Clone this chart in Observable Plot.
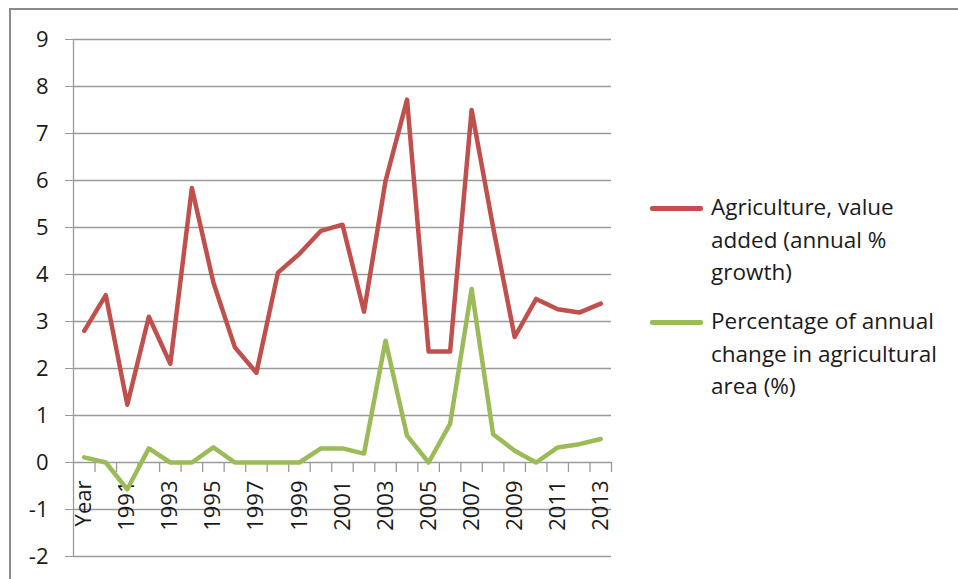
<!DOCTYPE html>
<html>
<head>
<meta charset="utf-8">
<script src="https://cdn.jsdelivr.net/npm/d3@7"></script>
<script src="https://cdn.jsdelivr.net/npm/@observablehq/plot@0.6"></script>
<style>
  html, body { margin: 0; padding: 0; background: #fff; width: 958px; height: 579px; overflow: hidden; }
  #frame { position: absolute; left: 9px; top: 8px; width: 1100px; height: 800px; border: 2px solid #8a8a8a; box-sizing: border-box; }
  #chart { position: absolute; left: 0; top: 0; }
  .legend { position: absolute; font-family: "Open Sans", Lato, sans-serif; font-size: 22.5px; line-height: 32.5px; color: #1a1a1a; }
  .legend .item { position: absolute; left: 0; white-space: nowrap; }
  .legend .swatch { position: absolute; left: 0; width: 53px; height: 4.5px; border-radius: 2px; }
  .legend .label { position: absolute; left: 61px; }
</style>
</head>
<body>
<div id="frame"></div>
<div id="chart"></div>
<div class="legend" id="legend" style="left:650px; top:0px;"></div>
<script>
// Categories (first row label "Year" is part of the category list in the source sheet)
const categories = ["Year","1990","1991","1992","1993","1994","1995","1996","1997","1998","1999","2000",
  "2001","2002","2003","2004","2005","2006","2007","2008","2009","2010","2011","2012","2013"];
// Agriculture, value added (annual % growth)
const agriValueAdded = [2.8, 3.56, 1.23, 3.1, 2.1, 5.84, 3.83, 2.45, 1.91, 4.04, 4.44, 4.93,
  5.06, 3.21, 5.99, 7.72, 2.36, 2.36, 7.5, 5.0, 2.67, 3.48, 3.26, 3.19, 3.38];
// Percentage of annual change in agricultural area (%)
const agriAreaChange = [0.11, 0.0, -0.57, 0.30, 0.0, 0.0, 0.32, 0.0, 0.0, 0.0, 0.0, 0.30,
  0.30, 0.19, 2.59, 0.57, 0.0, 0.82, 3.69, 0.60, 0.25, 0.0, 0.32, 0.39, 0.5];
const yTicks = [-2, -1, 0, 1, 2, 3, 4, 5, 6, 7, 8, 9];
const seriesNames = ["Agriculture, value added (annual % growth)", "Percentage of annual change in agricultural area (%)"];
const seriesLegendLines = [["Agriculture, value", "added (annual %", "growth)"], ["Percentage of annual", "change in agricultural", "area (%)"]];
const seriesColors = ["#C0504D", "#9BBB59"];

const idx = categories.map((d, i) => i);
const data = [];
idx.forEach(i => data.push({i, series: seriesNames[0], value: agriValueAdded[i]}));
idx.forEach(i => data.push({i, series: seriesNames[1], value: agriAreaChange[i]}));
const labelIdx = idx.filter(i => i % 2 === 0);
const boundaries = idx.map(i => i + 0.5);
const grid = "#9a9a9a";

const chart = Plot.plot({
  width: 620,
  height: 579,
  marginLeft: 73,
  marginRight: 9,
  marginTop: 39,
  marginBottom: 23,
  style: {fontFamily: "'Open Sans', Lato, sans-serif", fontSize: "22px", background: "transparent", color: "#1a1a1a"},
  x: {type: "linear", domain: [-0.5, categories.length - 0.5], axis: null},
  y: {domain: [d3.min(yTicks), d3.max(yTicks)], axis: null},
  color: {domain: seriesNames, range: seriesColors},
  marks: [
    Plot.ruleY(yTicks, {stroke: grid, strokeWidth: 1.3}),
    Plot.axisY({ticks: yTicks, label: null, tickSize: 8, tickPadding: 17, stroke: grid, fill: "#1a1a1a", fontSize: 22, tickFormat: d => d < 0 ? "-" + Math.abs(d) : String(d)}),
    Plot.ruleX([-0.5], {stroke: grid, strokeWidth: 1.3}),
    Plot.ruleX(boundaries, {x: d => d, y1: 0, y2: 0, insetBottom: -10, stroke: grid, strokeWidth: 1.3}),
    Plot.text(labelIdx, {x: d => d, y: 0, text: d => categories[d], rotate: -90, textAnchor: "end", dy: 18, fontSize: 22, fill: "#1a1a1a"}),
    Plot.line(data, {x: "i", y: "value", z: "series", stroke: "series", strokeWidth: 4.5, strokeLinejoin: "round", strokeLinecap: "round"})
  ]
});
document.getElementById("chart").appendChild(chart);

// Legend
const legend = document.getElementById("legend");
const tops = [191, 305];
seriesNames.forEach((name, k) => {
  const item = document.createElement("div");
  item.className = "item";
  item.style.top = tops[k] + "px";
  const sw = document.createElement("div");
  sw.className = "swatch";
  sw.style.background = seriesColors[k];
  sw.style.top = "15px";
  item.appendChild(sw);
  const lab = document.createElement("div");
  lab.className = "label";
  lab.innerHTML = seriesLegendLines[k].join("<br>");
  item.appendChild(lab);
  legend.appendChild(item);
});
</script>
</body>
</html>
